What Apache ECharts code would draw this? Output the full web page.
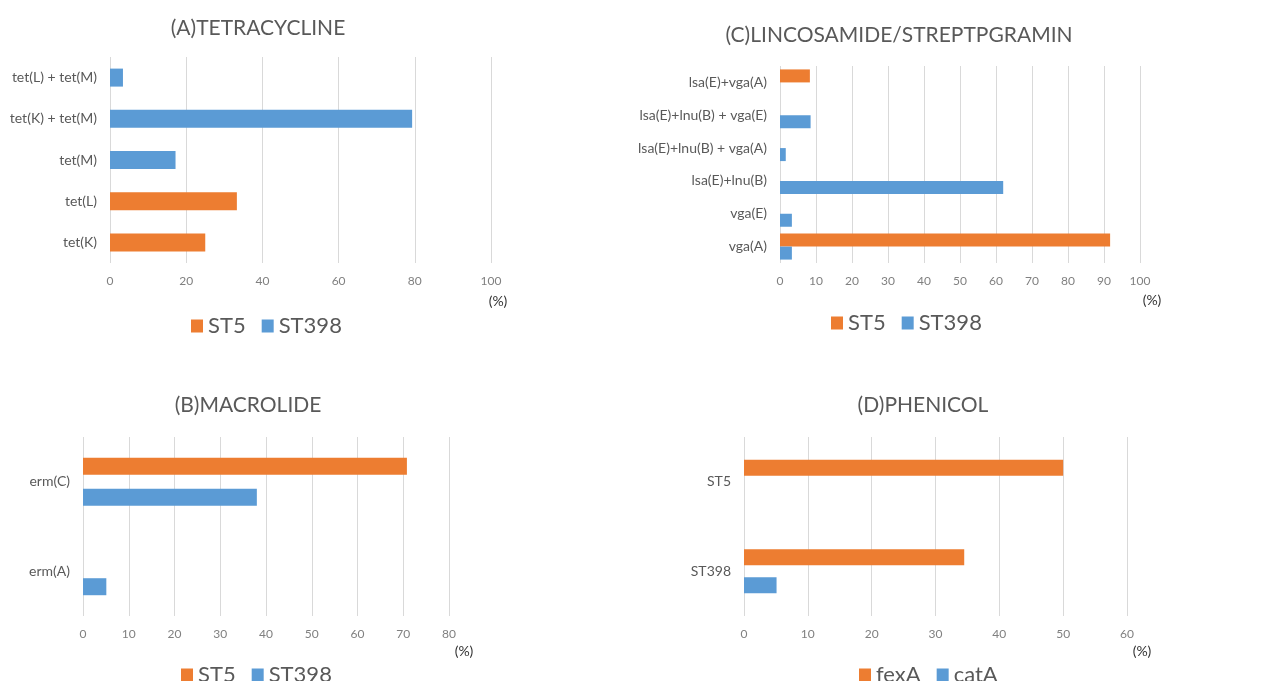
<!DOCTYPE html>
<html>
<head>
<meta charset="utf-8">
<script src="https://cdn.jsdelivr.net/npm/echarts@6/dist/echarts.min.js"></script>
<style>
  html, body { margin: 0; padding: 0; background: #fff; }
  #chart { width: 1270px; height: 681px; }
</style>
</head>
<body>
<div id="chart"></div>
<script>
// (A) Tetracycline resistance genes
const tetCategories = ['tet(K)', 'tet(L)', 'tet(M)', 'tet(K) + tet(M)', 'tet(L) + tet(M)'];
const tetST5 = [25.0, 33.3, null, null, null];
const tetST398 = [null, null, 17.2, 79.3, 3.4];

// (B) Macrolide resistance genes
const macCategories = ['erm(A)', 'erm(C)'];
const macST5 = [null, 70.8];
const macST398 = [5.1, 38.0];

// (C) Lincosamide / streptogramin resistance genes
const linCategories = ['vga(A)', 'vga(E)', 'lsa(E)+lnu(B)', 'lsa(E)+lnu(B) + vga(A)', 'lsa(E)+lnu(B) + vga(E)', 'lsa(E)+vga(A)'];
const linST5 = [91.7, null, null, null, null, 8.3];
const linST398 = [3.3, 3.3, 62.0, 1.6, 8.5, null];

// (D) Phenicol resistance genes
const pheCategories = ['ST398', 'ST5'];
const pheFexA = [34.5, 50.0];
const pheCatA = [5.1, null];

const ORANGE = '#ED7D31';
const BLUE = '#5B9BD5';
const FONT = 'Lato, "Open Sans", sans-serif';

function valueAxis(gridIndex, max, interval, nameGap, nameDrop) {
  return {
    type: 'value', gridIndex: gridIndex, min: 0, max: max, interval: interval,
    name: '(%)', nameLocation: 'end', nameGap: nameGap,
    nameTextStyle: { color: '#333333', fontSize: 14, fontFamily: FONT, align: 'center', verticalAlign: 'top', padding: [nameDrop, 0, 0, 0] },
    axisLine: { show: false }, axisTick: { show: false },
    axisLabel: { color: '#808080', fontSize: 12, fontFamily: FONT, margin: 12 },
    splitLine: { show: true, lineStyle: { color: '#d9d9d9', width: 1 } }
  };
}

function categoryAxis(gridIndex, data) {
  return {
    type: 'category', gridIndex: gridIndex, data: data,
    axisLine: { show: false }, axisTick: { show: false },
    axisLabel: { color: '#595959', fontSize: 14, fontFamily: FONT, margin: 13 },
    splitLine: { show: false }
  };
}

function barSeries(name, idx, data, color, extra) {
  return Object.assign({
    type: 'bar', name: name, xAxisIndex: idx, yAxisIndex: idx, data: data,
    itemStyle: { color: color }, emphasis: { disabled: true }
  }, extra || {});
}

function panelTitle(text, cx, top) {
  return { text: text, left: cx, top: top, textAlign: 'center',
    textStyle: { color: '#595959', fontSize: 21, fontWeight: 'normal', fontFamily: FONT } };
}

function panelLegend(names, left, top) {
  return { data: names, left: left, top: top, orient: 'horizontal', icon: 'rect',
    itemWidth: 12, itemHeight: 13, itemGap: 16,
    textStyle: { color: '#595959', fontSize: 22, fontFamily: FONT } };
}

function panelGrid(left, top, width, height) {
  return { left: left, top: top, width: width, height: height, containLabel: false, outerBoundsMode: 'none' };
}

const option = {
  animation: false,
  backgroundColor: '#ffffff',
  title: [
    panelTitle('(A)TETRACYCLINE', 253, 13),
    panelTitle('(C)LINCOSAMIDE/STREPTPGRAMIN', 894, 20),
    panelTitle('(B)MACROLIDE', 243, 390),
    panelTitle('(D)PHENICOL', 918, 390)
  ],
  legend: [
    panelLegend(['ST5', 'ST398'], 186, 310),
    panelLegend(['ST5', 'ST398'], 826, 307),
    panelLegend(['ST5', 'ST398'], 176, 659),
    panelLegend(['fexA', 'catA'], 854, 659)
  ],
  grid: [
    panelGrid(110, 57, 381, 206),
    panelGrid(780, 66, 360, 197),
    panelGrid(83, 437, 366, 179),
    panelGrid(744, 437, 383, 179)
  ],
  xAxis: [
    valueAxis(0, 100, 20, 7, 31),
    valueAxis(1, 100, 10, 12, 30),
    valueAxis(2, 80, 10, 15, 28),
    valueAxis(3, 60, 10, 15, 28)
  ],
  yAxis: [
    categoryAxis(0, tetCategories),
    categoryAxis(1, linCategories),
    categoryAxis(2, macCategories),
    categoryAxis(3, pheCategories)
  ],
  series: [
    barSeries('ST5', 0, tetST5, ORANGE, { stack: 'tet', barWidth: 18 }),
    barSeries('ST398', 0, tetST398, BLUE, { stack: 'tet', barWidth: 18 }),
    barSeries('ST5', 1, linST5, ORANGE, { barWidth: 13, barGap: '0%' }),
    barSeries('ST398', 1, linST398, BLUE, { barWidth: 13, barGap: '0%' }),
    barSeries('ST5', 2, macST5, ORANGE, { barWidth: 17, barGap: '82%' }),
    barSeries('ST398', 2, macST398, BLUE, { barWidth: 17, barGap: '82%' }),
    barSeries('fexA', 3, pheFexA, ORANGE, { barWidth: 16, barGap: '75%' }),
    barSeries('catA', 3, pheCatA, BLUE, { barWidth: 16, barGap: '75%' })
  ]
};

const chart = echarts.init(document.getElementById('chart'), null, { renderer: 'canvas' });
chart.setOption(option);
</script>
</body>
</html>
